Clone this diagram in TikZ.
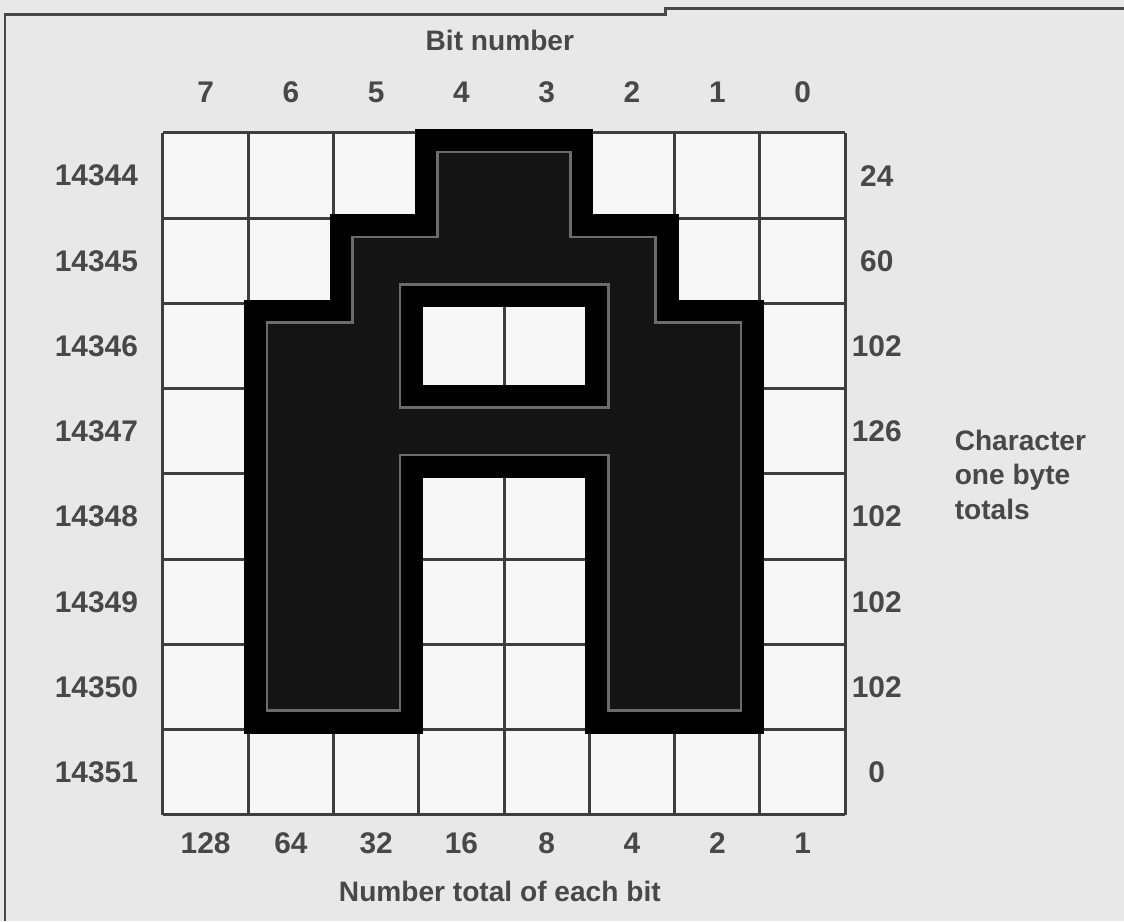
\documentclass[tikz,border=0pt]{standalone}
\usepackage{fontspec}
\setmainfont{Liberation Sans}
\usetikzlibrary{positioning}
\definecolor{paper}{RGB}{232,232,232}
\definecolor{cellwhite}{RGB}{247,247,247}
\definecolor{ink}{RGB}{72,72,72}
\definecolor{gridline}{RGB}{62,62,62}
\newcommand{\glyphA}{(3,0) -- (5,0) -- (5,1) -- (6,1) -- (6,2) -- (7,2) -- (7,7) -- (5,7) -- (5,4) -- (3,4) -- (3,7) -- (1,7) -- (1,2) -- (2,2) -- (2,1) -- (3,1) -- cycle (3,2) rectangle (5,3)}
\newcommand{\digitfont}{\fontsize{17}{20}\selectfont\bfseries}
\newcommand{\wordfont}{\fontsize{16}{19.8}\selectfont\bfseries}

\begin{document}
\begin{tikzpicture}[x=0.02cm,y=-0.02cm,
    num/.style={text=ink,font=\digitfont,inner sep=0pt},
    words/.style={text=ink,font=\wordfont,inner sep=0pt}]
  \fill[paper] (0,0) rectangle (1124,921);
  \useasboundingbox (0,0) rectangle (1124,921);
  % page frame
  \draw[ink,line width=1.7pt] (1124,8) -- (665,8) -- (665,14) -- (5,14) -- (5,921);
  \begin{scope}[xshift=3.26cm,yshift=-2.66cm,x=1.706cm,y=-1.705cm]
    % 8 x 8 cells
    \fill[cellwhite] (0,0) rectangle (8,8);
    \foreach \i in {0,...,8} {
      \draw[gridline,line width=1.7pt] (\i,0) -- (\i,8);
      \draw[gridline,line width=1.7pt] (0,\i) -- (8,\i);
    }
    % the character cells, inked in
    \fill[black!92,even odd rule] \glyphA;
    \begin{scope}[even odd rule]
      \clip \glyphA;
      \draw[black!58,line width=23pt] \glyphA;
      \draw[black,line width=20pt] \glyphA;
    \end{scope}
    \draw[black,line width=4.5pt] \glyphA;
    % bit numbers and their values
    \node[words] (title) at (3.95,-1.09) {Bit number};
    \foreach \b/\v [count=\c from 0] in {7/128,6/64,5/32,4/16,3/8,2/4,1/2,0/1} {
      \node[num] (bit\b) at (\c+0.5,-0.48) {\b};
      \node[num] (val\b) at (\c+0.5,8.33) {\v};
    }
    \node[words] (footer) at (3.95,8.9) {Number total of each bit};
    % addresses and byte totals
    \foreach \t [count=\r from 0, evaluate=\r as \a using int(14344+\r)] in {24,60,102,126,102,102,102,0} {
      \node[num,anchor=east] (addr\r) at (-0.29,\r+0.5) {\a};
      \node[num] (tot\r) at (8.37,\r+0.5) {\t};
    }
    \node[words,anchor=west,align=left] (byte) at (9.28,4.01) {Character\\one byte\\totals};
  \end{scope}
\end{tikzpicture}
\end{document}
